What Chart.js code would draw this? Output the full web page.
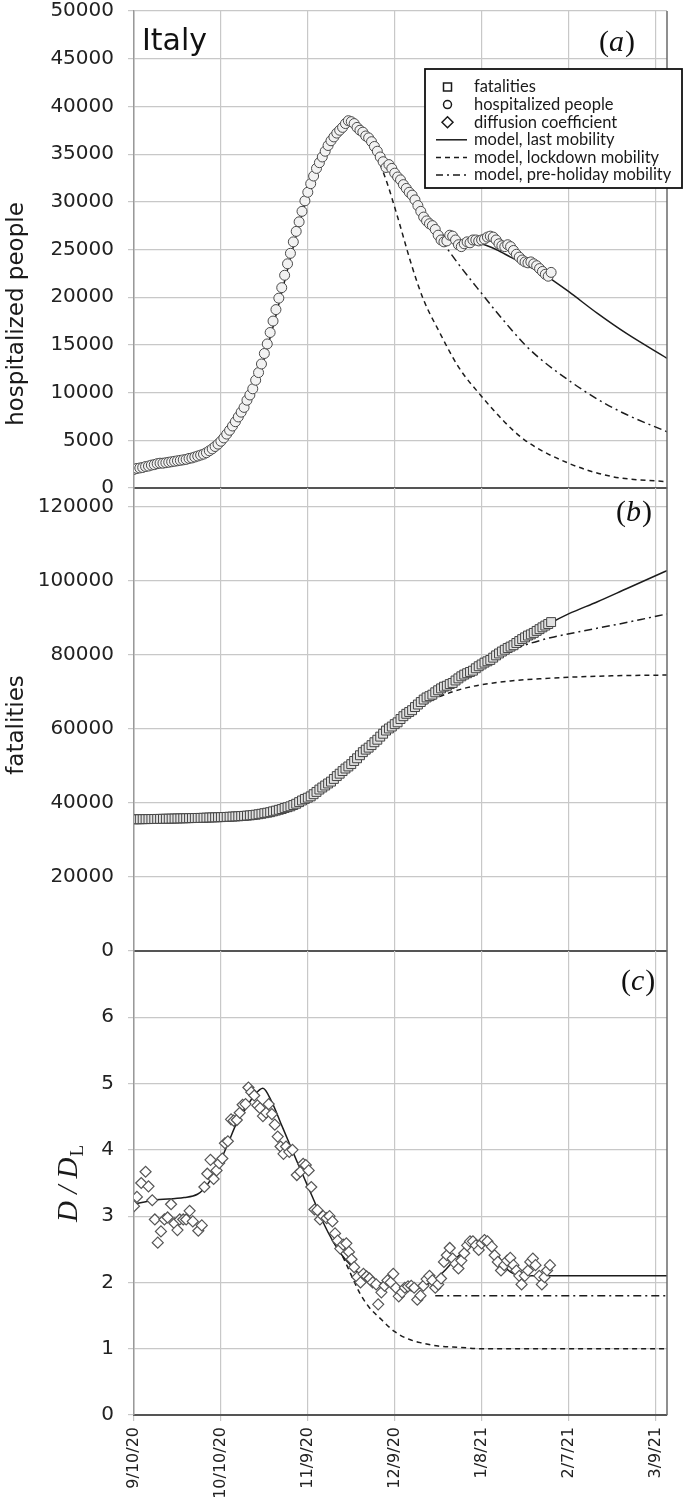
<!DOCTYPE html>
<html>
<head>
<meta charset="utf-8">
<script src="https://cdn.jsdelivr.net/npm/chart.js@4.4.0/dist/chart.umd.min.js"></script>
<style>
  body { margin: 0; background: #fff; }
  #wrap { position: relative; width: 685px; height: 1500px; }
  canvas { position: absolute; left: 0; }
</style>
</head>
<body>
<div id="wrap">
  <canvas id="chartA" width="685" height="500" style="top:0px;width:685px;height:500px"></canvas>
  <canvas id="chartB" width="685" height="500" style="top:470px;width:685px;height:500px"></canvas>
  <canvas id="chartC" width="685" height="570" style="top:930px;width:685px;height:570px"></canvas>
</div>
<script>
// x axis: days since 9/10/20
const tickDays = [0, 30, 60, 90, 120, 150, 180];
const tickLabels = ['9/10/20', '10/10/20', '11/9/20', '12/9/20', '1/8/21', '2/7/21', '3/9/21'];

const hospTicks = [0, 5000, 10000, 15000, 20000, 25000, 30000, 35000, 40000, 45000, 50000];
const fatTicks = [0, 20000, 40000, 60000, 80000, 100000, 120000];
const dTicks = [0, 1, 2, 3, 4, 5, 6];

const legendItems = ['fatalities', 'hospitalized people', 'diffusion coefficient',
  'model, last mobility', 'model, lockdown mobility', 'model, pre-holiday mobility'];

// (a) hospitalized people, one value per day from 9/10/20
const hospValues = [
  1950, 2050, 2100, 2150, 2250, 2300, 2400, 2450, 2550, 2600,
  2600, 2650, 2700, 2750, 2800, 2850, 2900, 2950, 3000, 3100,
  3150, 3250, 3350, 3450, 3550, 3700, 3900, 4100, 4350, 4600,
  4900, 5250, 5650, 6050, 6500, 6950, 7450, 7950, 8450, 9200,
  9750, 10400, 11300, 12100, 13000, 14100, 15100, 16300, 17500, 18700,
  19900, 21000, 22300, 23500, 24600, 25800, 26900, 27900, 29000, 30100,
  31000, 31900, 32700, 33500, 34100, 34700, 35300, 35900, 36400, 36800,
  37200, 37500, 37800, 38200, 38500, 38400, 38200, 37800, 37500, 37300,
  36900, 36700, 36300, 35800, 35300, 34700, 34200, 33600, 33900, 33500,
  33000, 32600, 32300, 31800, 31400, 31000, 30700, 30200, 29600, 29000,
  28400, 28000, 27700, 27500, 27100, 26500, 26000, 25800, 25900, 26500,
  26400, 26000, 25500, 25300, 25600, 25800, 25700, 26000, 26000, 25900,
  26000, 26100, 26300, 26400, 26300, 26000, 25600, 25400, 25300, 25500,
  25300, 24900, 24500, 24200, 23900, 23700, 23600, 23700, 23500, 23300,
  23000, 22700, 22400, 22200, 22600
];
const hospLastX = [0, 10, 20, 25, 30, 33, 36, 39, 42, 45, 48, 51, 54, 57, 60, 63, 66, 69, 72, 74, 76, 80, 85, 90, 95, 100, 105, 108, 112, 116, 120, 125, 130, 135, 140, 144, 150, 160, 170, 184];
const hospLastY = [1700, 2500, 3300, 3900, 4700, 5600, 7000, 8700, 10800, 13600, 16900, 20500, 24100, 27600, 30700, 33400, 35500, 37100, 38200, 38400, 37900, 36700, 34800, 32600, 30600, 28700, 27000, 26200, 25900, 25800, 25600, 25000, 24200, 23400, 22700, 21900, 20600, 18300, 16200, 13600];
const hospLockX = [74, 78, 82, 87, 91, 96, 100, 105, 112, 120, 128, 135, 150, 165, 184];
const hospLockY = [38400, 37300, 35900, 32300, 28400, 23200, 19700, 16600, 12700, 9600, 6900, 5000, 2600, 1200, 660];
const hospPreX = [106, 110, 115, 120, 125, 130, 135, 140, 150, 160, 170, 184];
const hospPreY = [26000, 24300, 22300, 20400, 18500, 16700, 15000, 13600, 11300, 9300, 7700, 5900];

// (b) fatalities, one value per day from 9/10/20
const fatValues = [
  35550, 35560, 35570, 35590, 35600, 35610, 35630, 35640, 35660, 35670,
  35690, 35710, 35720, 35740, 35760, 35780, 35800, 35820, 35840, 35860,
  35880, 35900, 35920, 35940, 35970, 36000, 36030, 36060, 36080, 36110,
  36140, 36170, 36200, 36250, 36290, 36330, 36370, 36430, 36480, 36550,
  36620, 36700, 36800, 36920, 37050, 37200, 37340, 37480, 37700, 37900,
  38120, 38320, 38620, 38830, 39060, 39410, 39760, 40190, 40640, 41060,
  41390, 41750, 42330, 42950, 43590, 44140, 44680, 45230, 45730, 46460,
  47220, 47870, 48570, 49260, 49820, 50450, 51300, 52030, 52850, 53680,
  54360, 54900, 55580, 56360, 57040, 57880, 58660, 59510, 60080, 60600,
  61240, 61740, 62630, 63390, 64040, 64520, 65010, 65860, 66540, 67220,
  67890, 68450, 68800, 69210, 69840, 70390, 70900, 71360, 71620, 72060,
  72370, 73030, 73600, 74160, 74620, 74990, 75330, 75680, 76330, 76880,
  77360, 77850, 78210, 78580, 79200, 79810, 80330, 80850, 81330, 81800,
  82180, 82550, 83160, 83680, 84200, 84670, 85160, 85480, 85880, 86420,
  86890, 87380, 87860, 88280, 88800
];
const fatLastX = [0, 20, 30, 40, 45, 50, 55, 60, 65, 70, 75, 80, 85, 90, 95, 100, 105, 110, 115, 120, 125, 130, 135, 140, 144, 150, 160, 170, 184];
const fatLastY = [35300, 35500, 35800, 36400, 37100, 38400, 40100, 42200, 44800, 47800, 51000, 54300, 57500, 60600, 63600, 66500, 69300, 72000, 74700, 77300, 79800, 82200, 84500, 86700, 88600, 91000, 94300, 97800, 102700];
const fatLockX = [90, 95, 100, 105, 110, 115, 120, 130, 140, 150, 165, 184];
const fatLockY = [60600, 63700, 66400, 68500, 70000, 71100, 71900, 72900, 73500, 73900, 74300, 74500];
const fatPreX = [115, 120, 125, 130, 135, 140, 145, 155, 165, 175, 184];
const fatPreY = [74700, 77000, 79300, 81100, 82600, 83800, 84800, 86400, 87900, 89500, 91000];

// (c) diffusion coefficient D / D_L
const dDays = [
  0, 1, 2.5, 4, 5, 6.3, 7.2, 8.2, 9.3, 10.5,
  11.6, 12.8, 14, 15, 15.8, 17, 18, 19.2, 20.3, 22.2,
  23.4, 24.3, 25.3, 26.4, 27.5, 28.5, 29.4, 30.5, 31.4, 32.4,
  33.5, 34.4, 35.5, 36.5, 37.5, 38.5, 39.5, 40.5, 41.5, 42.6,
  43.5, 44.5, 45.6, 46.5, 47.6, 48.6, 49.6, 50.6, 51.6, 52.5,
  53.6, 54.7, 56.2, 57.4, 58.4, 59.3, 60.3, 61.2, 62.3, 63.3,
  64.2, 65.3, 66.5, 67.5, 68.5, 69.4, 70.3, 71.2, 72.2, 73.3,
  74.2, 75.1, 76, 77.1, 78.2, 79.2, 80.3, 81.3, 82.4, 83.6,
  84.3, 85.4, 86.5, 87.5, 88.6, 89.5, 90.4, 91.4, 92.5, 93.5,
  94.6, 95.7, 96.7, 97.8, 98.9, 99.9, 101, 102, 103, 104,
  105, 106, 107, 108, 109, 110, 111, 112, 113, 114,
  115, 116, 117, 118, 119, 120, 121, 122, 123.5, 124.5,
  125.6, 126.7, 127.8, 128.8, 129.9, 131, 132, 133, 133.8, 134.9,
  136, 136.8, 137.7, 138.6, 139.9, 140.8, 141.7, 142.6, 143.6
];
const dValues = [
  3.15, 3.29, 3.5, 3.67, 3.45, 3.24, 2.95, 2.6, 2.77, 2.95,
  2.98, 3.18, 2.89, 2.79, 2.95, 2.95, 2.95, 3.08, 2.92, 2.78,
  2.86, 3.44, 3.64, 3.85, 3.56, 3.69, 3.8, 3.87, 4.1, 4.13,
  4.46, 4.44, 4.45, 4.56, 4.68, 4.69, 4.94, 4.87, 4.82, 4.67,
  4.63, 4.51, 4.56, 4.69, 4.54, 4.38, 4.2, 4.05, 3.94, 4.05,
  3.97, 4.0, 3.62, 3.67, 3.79, 3.77, 3.69, 3.44, 3.1, 3.09,
  2.95, 3.0, 2.97, 3.0, 2.92, 2.74, 2.63, 2.51, 2.57, 2.59,
  2.46, 2.35, 2.23, 2.08, 2.0, 2.13, 2.09, 2.06, 2.0, 1.97,
  1.67, 1.85, 1.95, 2.03, 2.0, 2.13, 1.92, 1.79, 1.85, 1.92,
  1.94, 1.95, 1.92, 1.74, 1.8, 1.95, 2.05, 2.1, 2.03, 1.92,
  1.97, 2.06, 2.31, 2.41, 2.52, 2.36, 2.28, 2.21, 2.33, 2.44,
  2.56, 2.62, 2.62, 2.56, 2.49, 2.59, 2.64, 2.62, 2.54, 2.41,
  2.31, 2.18, 2.26, 2.33, 2.37, 2.26, 2.18, 2.1, 1.97, 2.1,
  2.18, 2.31, 2.36, 2.26, 2.1, 1.97, 2.08, 2.18, 2.26
];
const dLastX = [0, 6.7, 17.3, 21.9, 24.1, 26.5, 29.4, 32.5, 35.5, 38.5, 41.5, 44.5, 47.6, 50.6, 53.6, 56.6, 59.6, 62.7, 65.7, 68.7, 71.8, 74.8, 77.8, 82.4, 86.9, 91.4, 96, 99, 103.5, 106.6, 111.1, 115.7, 120.2, 124.7, 129.3, 133.8, 184];
const dLastY = [3.18, 3.24, 3.28, 3.33, 3.41, 3.55, 3.79, 4.1, 4.41, 4.62, 4.82, 4.93, 4.72, 4.41, 4.1, 3.79, 3.49, 3.18, 2.87, 2.62, 2.41, 2.26, 2.13, 2.03, 1.97, 1.92, 1.9, 1.92, 2.03, 2.15, 2.36, 2.54, 2.62, 2.46, 2.18, 2.1, 2.1];
const dLockX = [68.7, 71.8, 74.8, 77.8, 80.9, 85.4, 89.9, 94.5, 99, 105, 112.6, 120, 184];
const dLockY = [2.62, 2.41, 2.13, 1.85, 1.64, 1.44, 1.26, 1.15, 1.09, 1.04, 1.02, 1.0, 1.0];
const dPreX = [104, 184];
const dPreY = [1.8, 1.8];

const GRID = '#c8c8c8';
const INK = '#1c1c1c';

function pts(xs, ys) {
  return ys.map((y, i) => ({ x: xs ? xs[i] : i, y: y }));
}

function modelLine(xs, ys, dash) {
  return {
    data: pts(xs, ys), showLine: true, pointRadius: 0, borderColor: INK,
    borderWidth: 1.5, borderDash: dash, cubicInterpolationMode: 'monotone', order: 2
  };
}

function options(o) {
  return {
    responsive: false,
    animation: false,
    layout: { padding: { left: 0, right: 18, top: o.padTop, bottom: 0 } },
    plugins: { legend: { display: false }, tooltip: { enabled: false } },
    scales: {
      x: {
        type: 'linear', min: 0, max: 184,
        afterBuildTicks: s => { s.ticks = tickDays.map(v => ({ value: v })); },
        afterFit: s => { s.height = o.xHeight; s.paddingLeft = 0; s.paddingRight = 0; },
        ticks: {
          display: o.xLabels, autoSkip: false, minRotation: 90, maxRotation: 90,
          padding: 6, color: '#222', font: { family: 'DejaVu Sans', size: 16 },
          callback: v => tickLabels[tickDays.indexOf(v)]
        },
        grid: { color: GRID, lineWidth: 1.2, drawTicks: o.xLabels, tickLength: 6 },
        border: { color: '#555', width: 2 }
      },
      y: {
        min: 0, max: o.yMax,
        afterBuildTicks: s => { s.ticks = o.yTicks.map(v => ({ value: v })); },
        afterFit: s => { s.width = 134; s.paddingTop = 0; s.paddingBottom = 0; },
        ticks: {
          color: '#222', padding: 14,
          font: { family: 'DejaVu Sans', size: 20, lineHeight: 1 },
          callback: v => String(v)
        },
        grid: { color: GRID, lineWidth: 1.2, tickLength: 6 },
        border: { color: '#999', width: 1.5 }
      }
    }
  };
}

function rightBorder(ctx, a) {
  ctx.save();
  ctx.strokeStyle = '#6a6a6a';
  ctx.lineWidth = 1.5;
  ctx.beginPath();
  ctx.moveTo(a.right, a.top);
  ctx.lineTo(a.right, a.bottom);
  ctx.stroke();
  ctx.restore();
}

function panelTag(ctx, letter, x, y) {
  ctx.save();
  ctx.fillStyle = '#111';
  ctx.textBaseline = 'middle';
  ctx.textAlign = 'left';
  ctx.font = '30px "Liberation Serif"';
  ctx.fillText('(', x, y);
  x += ctx.measureText('(').width;
  ctx.font = 'italic 30px "Liberation Serif"';
  ctx.fillText(letter, x, y);
  x += ctx.measureText(letter).width + 1;
  ctx.font = '30px "Liberation Serif"';
  ctx.fillText(')', x, y);
  ctx.restore();
}

function vTitle(ctx, text, x, y) {
  ctx.save();
  ctx.translate(x, y);
  ctx.rotate(-Math.PI / 2);
  ctx.fillStyle = '#1a1a1a';
  ctx.font = '23px "DejaVu Sans"';
  ctx.textAlign = 'center';
  ctx.textBaseline = 'middle';
  ctx.fillText(text, 0, 0);
  ctx.restore();
}

function drawLegend(ctx) {
  ctx.save();
  ctx.fillStyle = '#fff';
  ctx.fillRect(425, 69, 257, 119);
  ctx.strokeStyle = '#111';
  ctx.lineWidth = 1.8;
  ctx.strokeRect(425, 69, 257, 119);
  ctx.font = '16.5px Lato';
  ctx.textBaseline = 'middle';
  ctx.textAlign = 'left';
  legendItems.forEach((t, i) => {
    const y = 87 + i * 17.6;
    ctx.fillStyle = '#1a1a1a';
    ctx.fillText(t, 474, y);
    ctx.strokeStyle = '#1a1a1a';
    ctx.lineWidth = 1.5;
    ctx.setLineDash([]);
    ctx.beginPath();
    if (i === 0) {
      ctx.rect(443.5, y - 4, 8, 8);
    } else if (i === 1) {
      ctx.arc(447.5, y, 4, 0, Math.PI * 2);
    } else if (i === 2) {
      ctx.moveTo(447.5, y - 5.5); ctx.lineTo(453, y); ctx.lineTo(447.5, y + 5.5); ctx.lineTo(442, y); ctx.closePath();
    } else {
      ctx.setLineDash(i === 3 ? [] : i === 4 ? [5, 4] : [7, 4, 2, 4]);
      ctx.moveTo(436, y); ctx.lineTo(467, y);
    }
    ctx.stroke();
  });
  ctx.restore();
}

// panel (a)
new Chart(document.getElementById('chartA'), {
  type: 'scatter',
  data: {
    datasets: [
      { data: pts(null, hospValues), pointStyle: 'circle', pointRadius: 5, backgroundColor: '#f2f2f2', borderColor: '#4a4a4a', borderWidth: 1, order: 1 },
      modelLine(hospLastX, hospLastY, []),
      modelLine(hospLockX, hospLockY, [5, 4]),
      modelLine(hospPreX, hospPreY, [8, 4, 2, 4])
    ]
  },
  options: options({ padTop: 11, xHeight: 12, xLabels: false, yMax: 50000, yTicks: hospTicks }),
  plugins: [{
    id: 'decorA',
    afterDraw(chart) {
      const ctx = chart.ctx;
      rightBorder(ctx, chart.chartArea);
      ctx.save();
      ctx.fillStyle = '#111';
      ctx.font = '30px "DejaVu Sans"';
      ctx.textBaseline = 'alphabetic';
      ctx.fillText('Italy', 142, 50);
      ctx.restore();
      panelTag(ctx, 'a', 599, 43);
      vTitle(ctx, 'hospitalized people', 17, 314);
      drawLegend(ctx);
    }
  }]
});

// panel (b)
new Chart(document.getElementById('chartB'), {
  type: 'scatter',
  data: {
    datasets: [
      { data: pts(null, fatValues), pointStyle: 'rect', pointRadius: 6.3, backgroundColor: '#e2e2e2', borderColor: '#444', borderWidth: 1, order: 1 },
      modelLine(fatLastX, fatLastY, []),
      modelLine(fatLockX, fatLockY, [5, 4]),
      modelLine(fatPreX, fatPreY, [8, 4, 2, 4])
    ]
  },
  options: options({ padTop: 18, xHeight: 19, xLabels: false, yMax: 125000, yTicks: fatTicks }),
  plugins: [{
    id: 'decorB',
    afterDraw(chart) {
      const ctx = chart.ctx;
      rightBorder(ctx, chart.chartArea);
      panelTag(ctx, 'b', 616, 43);
      vTitle(ctx, 'fatalities', 17, 255);
    }
  }]
});

// panel (c)
new Chart(document.getElementById('chartC'), {
  type: 'scatter',
  data: {
    datasets: [
      { data: pts(dDays, dValues), pointStyle: 'rectRot', pointRadius: 5.5, backgroundColor: '#fff', borderColor: '#555', borderWidth: 1.2, order: 1 },
      modelLine(dLastX, dLastY, []),
      modelLine(dLockX, dLockY, [5, 4]),
      modelLine(dPreX, dPreY, [8, 4, 2, 4])
    ]
  },
  options: options({ padTop: 21, xHeight: 85, xLabels: true, yMax: 7, yTicks: dTicks }),
  plugins: [{
    id: 'decorC',
    afterDraw(chart) {
      const ctx = chart.ctx;
      rightBorder(ctx, chart.chartArea);
      panelTag(ctx, 'c', 621, 52);
      ctx.save();
      ctx.translate(77, 254);
      ctx.rotate(-Math.PI / 2);
      ctx.fillStyle = '#1a1a1a';
      ctx.textBaseline = 'alphabetic';
      ctx.textAlign = 'left';
      ctx.font = 'italic 29px "Liberation Serif"';
      const w1 = ctx.measureText('D / D').width;
      ctx.font = '19px "Liberation Serif"';
      const w2 = ctx.measureText('L').width;
      const sx = -(w1 + w2) / 2;
      ctx.font = 'italic 29px "Liberation Serif"';
      ctx.fillText('D / D', sx, 0);
      ctx.font = '19px "Liberation Serif"';
      ctx.fillText('L', sx + w1 + 1, 6);
      ctx.restore();
    }
  }]
});
</script>
</body>
</html>
